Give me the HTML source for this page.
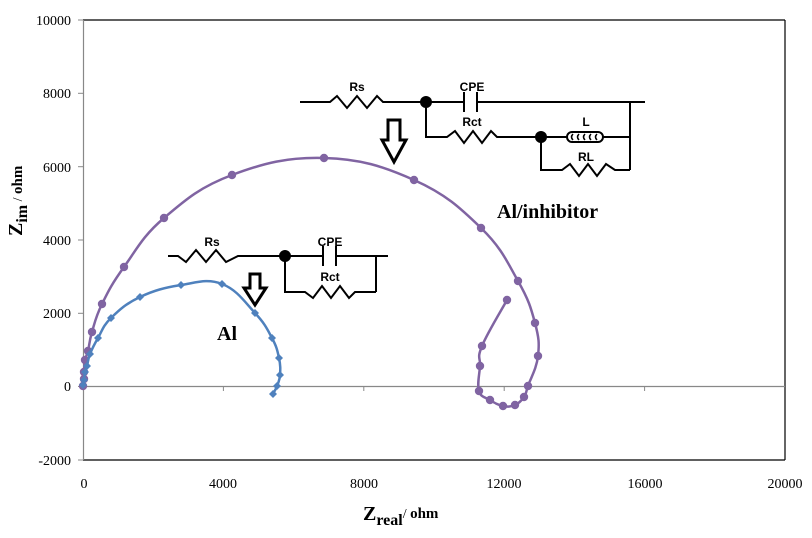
<!DOCTYPE html>
<html><head><style>body{margin:0;background:#fff}svg{display:block}</style></head><body>
<svg id="s" width="812" height="538" xmlns="http://www.w3.org/2000/svg" font-family="Liberation Serif, serif">
<rect width="812" height="538" fill="#fff"/>
<line x1="83" y1="20" x2="785" y2="20" stroke="#000" stroke-width="1.2"/>
<line x1="785" y1="20" x2="785" y2="460" stroke="#000" stroke-width="1.2"/>
<line x1="83" y1="460" x2="785" y2="460" stroke="#000" stroke-width="1.2"/>
<line x1="83.5" y1="20" x2="83.5" y2="460" stroke="#888" stroke-width="1.2"/>
<line x1="83" y1="386.5" x2="785" y2="386.5" stroke="#888" stroke-width="1.2"/>
<g stroke="#888" stroke-width="1">
<line x1="78" y1="20" x2="83" y2="20"/><line x1="78" y1="93.3" x2="83" y2="93.3"/><line x1="78" y1="166.7" x2="83" y2="166.7"/><line x1="78" y1="240" x2="83" y2="240"/><line x1="78" y1="313.3" x2="83" y2="313.3"/><line x1="78" y1="386.5" x2="83" y2="386.5"/><line x1="78" y1="460" x2="83" y2="460"/>
<line x1="223.4" y1="386" x2="223.4" y2="391"/><line x1="363.8" y1="386" x2="363.8" y2="391"/><line x1="504.2" y1="386" x2="504.2" y2="391"/><line x1="644.6" y1="386" x2="644.6" y2="391"/>
</g>
<g font-size="14" fill="#000" text-anchor="end">
<text x="71" y="25">10000</text><text x="71" y="98">8000</text><text x="71" y="172">6000</text><text x="71" y="245">4000</text><text x="71" y="318">2000</text><text x="71" y="391">0</text><text x="71" y="465">-2000</text>
</g>
<g font-size="14" fill="#000" text-anchor="middle">
<text x="84" y="488">0</text><text x="223" y="488">4000</text><text x="364" y="488">8000</text><text x="504" y="488">12000</text><text x="645" y="488">16000</text><text x="785" y="488">20000</text>
</g>
<text x="363" y="520" font-size="20" font-weight="bold">Z<tspan font-size="16" dy="5">real</tspan><tspan font-size="14" dy="-7" font-weight="normal">/ </tspan><tspan font-size="15">ohm</tspan></text>
<text transform="translate(22,236) rotate(-90)" font-size="20" font-weight="bold">Z<tspan font-size="16" dy="5">im</tspan><tspan font-size="14" dy="-5" font-weight="normal"> / </tspan><tspan font-size="15">ohm</tspan></text>

<path id="pp" fill="none" stroke="#8064a2" stroke-width="2.5" d=""/>
<g id="pm" fill="#8064a2"></g>
<path id="bp" fill="none" stroke="#4f81bd" stroke-width="2.5" d=""/>
<g id="bm" fill="#4f81bd"></g>

<text x="497" y="218" font-size="20" font-weight="bold">Al/inhibitor</text>
<text x="217" y="340" font-size="20" font-weight="bold">Al</text>

<g stroke="#000" stroke-width="2" fill="none">
<polyline points="300,102 330,102 337,96 347,108 357,96 367,108 377,96 383,102 464,102"/>
<line x1="464" y1="92" x2="464" y2="112"/><line x1="477" y1="92" x2="477" y2="112"/>
<line x1="477" y1="102" x2="645" y2="102"/>
<line x1="630" y1="102" x2="630" y2="170"/>
<polyline points="426,102 426,137 447,137 455,131 464,143 473,131 482,143 491,131 497,137 541,137 567,137"/>
<rect x="567" y="132" width="36" height="10" rx="5"/>
<line x1="603" y1="137" x2="630" y2="137"/>
<polyline points="541,137 541,170 562,170 570,164 579,176 588,164 597,176 606,164 615,170 630,170"/>
<path d="M573,134 q-3,3 0,6 M579,134 q-3,3 0,6 M585,134 q-3,3 0,6 M591,134 q-3,3 0,6 M597,134 q-3,3 0,6" stroke-width="1.5"/>
</g>
<circle cx="426" cy="102" r="6" fill="#000"/><circle cx="541" cy="137" r="6" fill="#000"/>
<g font-family="Liberation Sans, sans-serif" font-weight="bold" font-size="12" text-anchor="middle">
<text x="357" y="91">Rs</text><text x="472" y="91">CPE</text><text x="472" y="126">Rct</text><text x="586" y="126">L</text><text x="586" y="161">RL</text>
</g>
<path d="M388,120h12v20h6l-12,22l-12,-22h6z" fill="#fff" stroke="#000" stroke-width="3"/>

<g stroke="#000" stroke-width="2" fill="none">
<polyline points="168,256 178,256 186,262 196,250 206,262 216,250 226,262 238,256 323,256"/>
<line x1="323" y1="246" x2="323" y2="266"/><line x1="336" y1="246" x2="336" y2="266"/>
<line x1="336" y1="256" x2="388" y2="256"/>
<line x1="376" y1="256" x2="376" y2="292"/>
<polyline points="285,256 285,292 305,292 313,298 322,286 331,298 340,286 349,298 355,292 376,292"/>
</g>
<circle cx="285" cy="256" r="6" fill="#000"/>
<g font-family="Liberation Sans, sans-serif" font-weight="bold" font-size="12" text-anchor="middle">
<text x="212" y="246">Rs</text><text x="330" y="246">CPE</text><text x="330" y="281">Rct</text>
</g>
<path d="M250,274h10v14h6l-11,17l-11,-17h6z" fill="#fff" stroke="#000" stroke-width="3"/>
</svg>
<script>
var NS="http://www.w3.org/2000/svg";
function smooth(p){var d="M"+p[0][0]+","+p[0][1];for(var i=0;i<p.length-1;i++){var p0=p[i-1]||p[i],p1=p[i],p2=p[i+1],p3=p[i+2]||p2;var t=0.2;var c1=[p1[0]+(p2[0]-p0[0])*t,p1[1]+(p2[1]-p0[1])*t],c2=[p2[0]-(p3[0]-p1[0])*t,p2[1]-(p3[1]-p1[1])*t];d+=" C"+c1+" "+c2+" "+p2;}return d;}
var P=[[83,386],[84,379],[84,372],[85,360],[88,351],[92,332],[102,304],[124,267],[164,218],[232,175],[324,158],[414,180],[481,228],[518,281],[535,323],[538,356],[528,386],[524,397],[515,405],[503,406],[490,400],[479,391],[480,366],[482,346],[507,300]];
var B=[[83,385],[84,380],[85,372],[87,366],[90,354],[98,338],[111,318],[140,297],[181,285],[222,284],[255,313],[272,338],[279,358],[280,375],[277,386],[273,394]];
document.getElementById("pp").setAttribute("d",smooth(P));
document.getElementById("bp").setAttribute("d",smooth(B));
var pm=document.getElementById("pm");P.forEach(function(q){var c=document.createElementNS(NS,"circle");c.setAttribute("cx",q[0]);c.setAttribute("cy",q[1]);c.setAttribute("r",4.2);pm.appendChild(c);});
var bm=document.getElementById("bm");B.forEach(function(q){var c=document.createElementNS(NS,"path");c.setAttribute("d","M"+q[0]+","+(q[1]-4)+"l4,4-4,4-4-4z");bm.appendChild(c);});
</script>
</body></html>
